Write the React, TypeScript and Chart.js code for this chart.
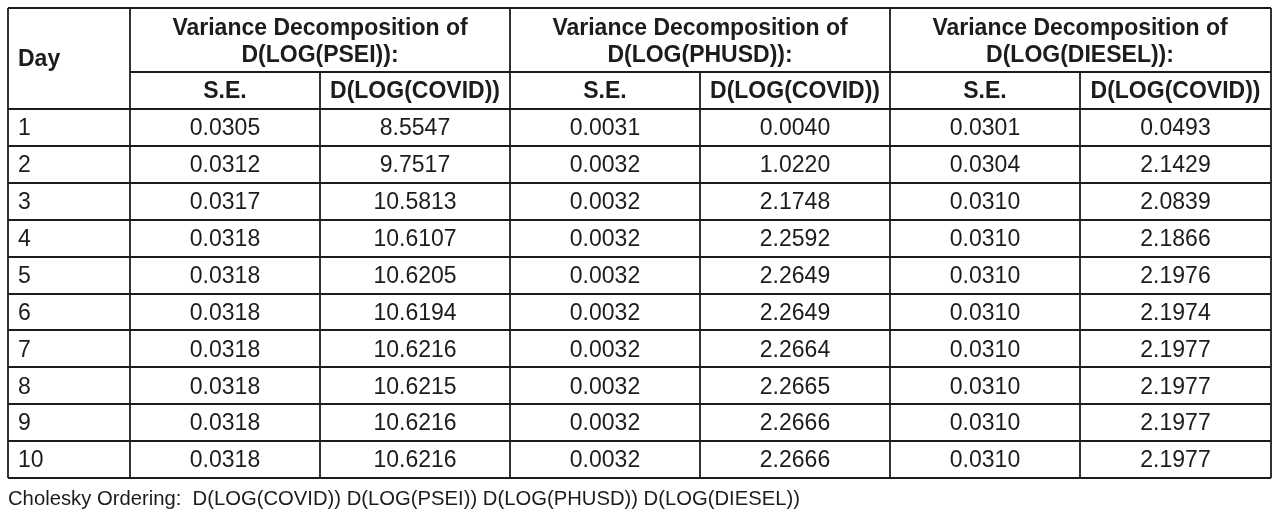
import React, { useEffect, useRef } from "react";
import { Chart, registerables } from "chart.js";

Chart.register(...registerables);

// ---- data ----
const days = ["1", "2", "3", "4", "5", "6", "7", "8", "9", "10"];
const groupTitles = ["D(LOG(PSEI)):", "D(LOG(PHUSD)):", "D(LOG(DIESEL)):"];
const subHeaders = ["S.E.", "D(LOG(COVID))"];
const pseiSE = [0.0305, 0.0312, 0.0317, 0.0318, 0.0318, 0.0318, 0.0318, 0.0318, 0.0318, 0.0318];
const pseiCovid = [8.5547, 9.7517, 10.5813, 10.6107, 10.6205, 10.6194, 10.6216, 10.6215, 10.6216, 10.6216];
const phusdSE = [0.0031, 0.0032, 0.0032, 0.0032, 0.0032, 0.0032, 0.0032, 0.0032, 0.0032, 0.0032];
const phusdCovid = [0.004, 1.022, 2.1748, 2.2592, 2.2649, 2.2649, 2.2664, 2.2665, 2.2666, 2.2666];
const dieselSE = [0.0301, 0.0304, 0.031, 0.031, 0.031, 0.031, 0.031, 0.031, 0.031, 0.031];
const dieselCovid = [0.0493, 2.1429, 2.0839, 2.1866, 2.1976, 2.1974, 2.1977, 2.1977, 2.1977, 2.1977];
const footnote = "Cholesky Ordering:  D(LOG(COVID)) D(LOG(PSEI)) D(LOG(PHUSD)) D(LOG(DIESEL))";

// ---- layout (scale units) ----
const colUnits = [122, 190, 190, 190, 190, 190, 191];
const headUnits = [64, 37];
const rowUnit = 36.9;

const colEdges: number[] = [0];
colUnits.forEach((w) => colEdges.push(colEdges[colEdges.length - 1] + w));
const tableW = colEdges[colEdges.length - 1];
const headBottom = headUnits[0] + headUnits[1];
const tableH = headBottom + rowUnit * days.length;

const columns = [pseiSE, pseiCovid, phusdSE, phusdCovid, dieselSE, dieselCovid];

const FONT = "'Liberation Sans', Arial, sans-serif";
const INK = "#1c1c1c";

const tablePlugin = {
  id: "tablePlugin",
  afterDraw(chart: any) {
    const ctx = chart.ctx as CanvasRenderingContext2D;
    const xs = chart.scales.x;
    const ys = chart.scales.y;
    const X = (v: number) => xs.getPixelForValue(v);
    const Y = (v: number) => ys.getPixelForValue(v);
    ctx.save();
    ctx.strokeStyle = INK;
    ctx.lineWidth = 1.8;
    const line = (x1: number, y1: number, x2: number, y2: number) => {
      ctx.beginPath();
      ctx.moveTo(Math.round(X(x1)), Math.round(Y(y1)));
      ctx.lineTo(Math.round(X(x2)), Math.round(Y(y2)));
      ctx.stroke();
    };
    // outer border
    line(0, 0, tableW, 0);
    line(0, tableH, tableW, tableH);
    line(0, 0, 0, tableH);
    line(tableW, 0, tableW, tableH);
    // horizontal lines
    line(colEdges[1], headUnits[0], tableW, headUnits[0]);
    for (let r = 0; r < days.length; r++) {
      const yv = headBottom + rowUnit * r;
      line(0, yv, tableW, yv);
    }
    // vertical lines
    for (let c = 1; c < colEdges.length - 1; c++) {
      const full = c % 2 === 1;
      line(colEdges[c], full ? 0 : headUnits[0], colEdges[c], tableH);
    }

    ctx.fillStyle = INK;
    ctx.textBaseline = "middle";
    // header
    ctx.font = `bold 23px ${FONT}`;
    ctx.textAlign = "left";
    ctx.fillText("Day", X(10), Y(headBottom / 2) + 1);
    ctx.textAlign = "center";
    groupTitles.forEach((t, g) => {
      const cx = X(colEdges[1 + g * 2 + 1]);
      ctx.fillText("Variance Decomposition of", cx, Y(21));
      ctx.fillText(t, cx, Y(48));
      subHeaders.forEach((s, k) => {
        const c = 1 + g * 2 + k;
        ctx.fillText(s, X((colEdges[c] + colEdges[c + 1]) / 2), Y(headUnits[0] + headUnits[1] / 2) + 1);
      });
    });
    // body
    ctx.font = `23px ${FONT}`;
    days.forEach((d, r) => {
      const yc = Y(headBottom + rowUnit * (r + 0.5)) + 1.5;
      ctx.textAlign = "left";
      ctx.fillText(d, X(10), yc);
      ctx.textAlign = "center";
      columns.forEach((col, c) => {
        ctx.fillText(col[r].toFixed(4), X((colEdges[c + 1] + colEdges[c + 2]) / 2), yc);
      });
    });
    // footnote
    ctx.font = `21px ${FONT}`;
    ctx.textAlign = "left";
    const w = ctx.measureText(footnote).width;
    const target = 792;
    ctx.save();
    ctx.translate(X(0), Y(tableH) + 21);
    ctx.scale(target / w, 1);
    ctx.fillText(footnote, 0, 0);
    ctx.restore();
    ctx.restore();
  },
};

export default function App() {
  const ref = useRef<HTMLCanvasElement>(null);
  useEffect(() => {
    if (!ref.current) return;
    const points: { x: number; y: number }[] = [];
    days.forEach((_, r) =>
      columns.forEach((_c, c) =>
        points.push({ x: (colEdges[c + 1] + colEdges[c + 2]) / 2, y: headBottom + rowUnit * (r + 0.5) })
      )
    );
    const chart = new Chart(ref.current, {
      type: "scatter",
      data: { datasets: [{ data: points, pointRadius: 0, pointHoverRadius: 0 }] },
      options: {
        animation: false,
        responsive: false,
        events: [],
        layout: { padding: { left: 8, top: 8, right: 12, bottom: 44 } },
        plugins: { legend: { display: false }, tooltip: { enabled: false } },
        scales: {
          x: { type: "linear", display: false, min: 0, max: tableW },
          y: { type: "linear", display: false, min: 0, max: tableH, reverse: true },
        },
      },
      plugins: [tablePlugin],
    });
    return () => chart.destroy();
  }, []);
  return (
    <div style={{ position: "absolute", left: 0, top: 0, width: 1283, height: 522, background: "#fff" }}>
      <canvas ref={ref} width={1283} height={522} style={{ display: "block" }} />
    </div>
  );
}
